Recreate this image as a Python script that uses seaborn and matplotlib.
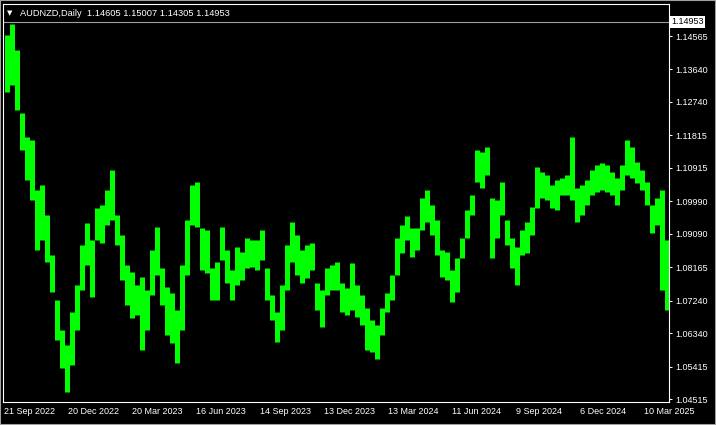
"""
AUDNZD daily chart, MT4 look: black background, green bars, price scale on the right.
"""

import numpy as np
import pandas as pd
import matplotlib
matplotlib.use("Agg")
import matplotlib.pyplot as plt
import matplotlib.transforms as mtransforms
from matplotlib.patches import Rectangle
import seaborn as sns


# ─────────────────────────────────────────────
# Data (one high/low pair per week)
# ─────────────────────────────────────────────

week_high = [
    1.1459, 1.1490, 1.1418, 1.1243, 1.1177, 1.1169, 1.1030, 1.1044, 1.0961, 1.0850,
    1.0726, 1.0643, 1.0601, 1.0692, 1.0767, 1.0878, 1.0939, 1.0892, 1.0980, 1.0989,
    1.1030, 1.1086, 1.0961, 1.0906, 1.0823, 1.0803, 1.0767, 1.0789, 1.0753, 1.0864,
    1.0928, 1.0814, 1.0762, 1.0745, 1.0698, 1.0823, 1.0947, 1.1044, 1.1052, 1.0925,
    1.0919, 1.0814, 1.0831, 1.0928, 1.0864, 1.0809, 1.0872, 1.0859, 1.0897, 1.0892,
    1.0892, 1.0919, 1.0814, 1.0739, 1.0692, 1.0767, 1.0878, 1.0942, 1.0906, 1.0864,
    1.0878, 1.0883, 1.0773, 1.0753, 1.0814, 1.0823, 1.0831, 1.0773, 1.0759, 1.0828,
    1.0767, 1.0739, 1.0703, 1.0670, 1.0656, 1.0703, 1.0745, 1.0795, 1.0897, 1.0933,
    1.0958, 1.0925, 1.0925, 1.1008, 1.1030, 1.0989, 1.0947, 1.0864, 1.0859, 1.0809,
    1.0842, 1.0897, 1.0975, 1.1016, 1.1141, 1.1135, 1.1149, 1.1008, 1.1003, 1.1052,
    1.0947, 1.0897, 1.0872, 1.0919, 1.0942, 1.0983, 1.1094, 1.1080, 1.1072, 1.1044,
    1.1058, 1.1063, 1.1072, 1.1177, 1.1036, 1.1044, 1.1058, 1.1086, 1.1099, 1.1105,
    1.1099, 1.1080, 1.1063, 1.1099, 1.1169, 1.1149, 1.1108, 1.1086, 1.1052, 1.0989,
    1.1008, 1.1030, 1.0892,
]
week_low = [
    1.1302, 1.1321, 1.1252, 1.1141, 1.1058, 1.1003, 1.0864, 1.0892, 1.0831, 1.0748,
    1.0615, 1.0537, 1.0471, 1.0546, 1.0643, 1.0753, 1.0823, 1.0734, 1.0892, 1.0883,
    1.0933, 1.0947, 1.0878, 1.0781, 1.0712, 1.0676, 1.0684, 1.0587, 1.0643, 1.0739,
    1.0795, 1.0712, 1.0629, 1.0607, 1.0551, 1.0643, 1.0795, 1.0933, 1.0928, 1.0809,
    1.0800, 1.0726, 1.0726, 1.0836, 1.0773, 1.0726, 1.0767, 1.0781, 1.0814, 1.0817,
    1.0809, 1.0836, 1.0726, 1.0670, 1.0609, 1.0643, 1.0753, 1.0831, 1.0795, 1.0773,
    1.0787, 1.0809, 1.0698, 1.0651, 1.0739, 1.0753, 1.0753, 1.0692, 1.0684, 1.0698,
    1.0679, 1.0656, 1.0587, 1.0582, 1.0562, 1.0629, 1.0692, 1.0726, 1.0795, 1.0856,
    1.0892, 1.0845, 1.0864, 1.0919, 1.0942, 1.0906, 1.0850, 1.0789, 1.0781, 1.0720,
    1.0748, 1.0842, 1.0897, 1.0961, 1.1052, 1.1036, 1.1072, 1.0842, 1.0897, 1.0961,
    1.0878, 1.0814, 1.0767, 1.0850, 1.0856, 1.0906, 1.0980, 1.1008, 1.1003, 1.0980,
    1.0975, 1.1016, 1.1016, 1.1003, 1.0942, 1.0961, 1.0989, 1.1016, 1.1025, 1.1030,
    1.1025, 1.1016, 1.0989, 1.1030, 1.1072, 1.1063, 1.1050, 1.1030, 1.0989, 1.0911,
    1.0933, 1.0753, 1.0698,
]

date_labels = [
    "21 Sep 2022", "20 Dec 2022", "20 Mar 2023", "16 Jun 2023", "14 Sep 2023",
    "13 Dec 2023", "13 Mar 2024", "11 Jun 2024", "9 Sep 2024", "6 Dec 2024",
    "10 Mar 2025",
]
price_ticks = [
    1.04515, 1.05415, 1.06340, 1.07240, 1.08165, 1.09090,
    1.09990, 1.10915, 1.11815, 1.12740, 1.13640, 1.14565,
]

symbol = "AUDNZD"
timeframe = "Daily"
last_ohlc = [1.14605, 1.15007, 1.14305, 1.14953]

DAYS_PER_BAR = 5      # one weekly sample spans five daily bars
LABEL_STEP = 64       # MT4 puts a date label every 64 bars
N_DAYS = 665
PRICE_MIN, PRICE_MAX = 1.04433, 1.15451

W, H = 716, 425
GREEN = "#00ff00"


# ─────────────────────────────────────────────
# Plot
# ─────────────────────────────────────────────

sns.set_style("dark", rc={
    "axes.facecolor": "black",
    "figure.facecolor": "black",
    "axes.edgecolor": "white",
    "text.color": "white",
    "xtick.color": "white",
    "ytick.color": "white",
    "axes.grid": False,
})
plt.rcParams["font.family"] = ["Liberation Sans", "DejaVu Sans"]

fig = plt.figure(figsize=(W / 100, H / 100), dpi=100)
ax = fig.add_axes([3 / W, 1 - 402 / H, 666 / W, 398 / H])

n = len(week_high)
bars = pd.DataFrame({
    "week": np.repeat(np.arange(n), 2),
    "day": np.repeat(np.arange(n) * DAYS_PER_BAR + DAYS_PER_BAR / 2, 2),
    "price": np.column_stack([week_high, week_low]).ravel(),
})
sns.lineplot(data=bars, x="day", y="price", units="week", estimator=None,
             sort=False, color=GREEN, lw=3.6, solid_capstyle="butt",
             legend=False, ax=ax)

# bid line + price tag
ax.axhline(last_ohlc[3], color="#a0a0a0", lw=0.8)
trans = mtransforms.blended_transform_factory(ax.transAxes, ax.transData)
ax.text(1.003, last_ohlc[3], f"{last_ohlc[3]:.5f}", transform=trans,
        color="black", fontsize=6.5, ha="left", va="center", clip_on=False,
        bbox=dict(facecolor="white", edgecolor="none", pad=1.3))

ax.set_xlim(-1, N_DAYS)
ax.set_ylim(PRICE_MIN, PRICE_MAX)
ax.set_xlabel(""); ax.set_ylabel("")

ax.yaxis.tick_right()
ax.set_yticks(price_ticks)
ax.set_yticklabels([f"{v:.5f}" for v in price_ticks])
ax.set_xticks(np.arange(len(date_labels)) * LABEL_STEP)
ax.set_xticklabels(date_labels, ha="left")
ax.tick_params(axis="both", colors="white", labelsize=6.5, length=2.2,
               width=0.75, direction="out")
ax.tick_params(axis="x", pad=1.5)
ax.tick_params(axis="y", pad=2)
for s in ax.spines.values():
    s.set_color("white")
    s.set_linewidth(0.8)

# header
header = f"{symbol},{timeframe}  " + " ".join(f"{v:.5f}" for v in last_ohlc)
fig.text(10 / W, 1 - 13 / H, "\u25bc", color="white", fontsize=5,
         ha="center", va="center", family="DejaVu Sans")
fig.text(20 / W, 1 - 13 / H, header, color="white", fontsize=6.7,
         ha="left", va="center")

fig.patches.append(Rectangle((0, 0), 1, 1, transform=fig.transFigure,
                             fill=False, edgecolor="#a0a0a0", lw=1.5))

fig.savefig("out.png", dpi=100, facecolor="black")
plt.close(fig)
